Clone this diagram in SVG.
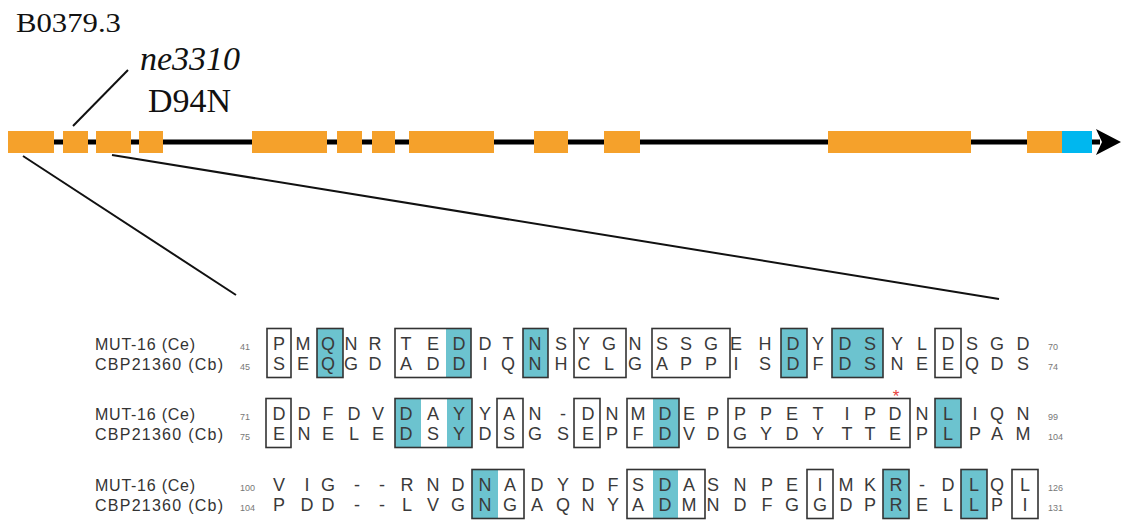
<svg xmlns="http://www.w3.org/2000/svg" width="1122" height="525" viewBox="0 0 1122 525">
<style>
.ex{fill:#f5a12b}
.utr{fill:#00b7ef}
.ser{font-family:"Liberation Serif","Times New Roman",serif;fill:#111}
.lbl{font-family:"Liberation Sans",Arial,sans-serif;font-size:16px;fill:#333}
.res{font-family:"Liberation Sans",Arial,sans-serif;font-size:18px;fill:#3a3a3a;text-anchor:middle}
.num{font-family:"Liberation Sans",Arial,sans-serif;font-size:9px;fill:#777}
.box{fill:none;stroke:#333;stroke-width:1.6}
.cy{fill:#6cc3cf}
.ln{stroke:#111;stroke-width:2;fill:none}
</style>
<rect width="1122" height="525" fill="#fff"/>
<g id="title">
<text class="ser" x="16" y="32" font-size="28" textLength="105" lengthAdjust="spacingAndGlyphs">B0379.3</text>
</g>
<g id="gene">
<line x1="8" y1="142" x2="1100" y2="142" stroke="#000" stroke-width="5"/>
<polygon points="1121,142 1096,129 1102,142 1096,155" fill="#000"/>
<rect class="ex" x="8" y="131" width="46" height="22"/>
<rect class="ex" x="63" y="131" width="25" height="22"/>
<rect class="ex" x="96" y="131" width="35" height="22"/>
<rect class="ex" x="139" y="131" width="24" height="22"/>
<rect class="ex" x="252" y="131" width="75" height="22"/>
<rect class="ex" x="337" y="131" width="25" height="22"/>
<rect class="ex" x="372" y="131" width="23" height="22"/>
<rect class="ex" x="409" y="131" width="85" height="22"/>
<rect class="ex" x="534" y="131" width="34" height="22"/>
<rect class="ex" x="604" y="131" width="36" height="22"/>
<rect class="ex" x="828" y="131" width="143" height="22"/>
<rect class="ex" x="1027" y="131" width="35" height="22"/>
<rect class="utr" x="1062" y="131" width="30" height="22"/>
</g>
<g id="mutation">
<text class="ser" x="140" y="70" font-size="34" font-style="italic">ne3310</text>
<text class="ser" x="148" y="112" font-size="34">D94N</text>
</g>
<g id="connectors">
<line class="ln" x1="73" y1="126" x2="128" y2="70"/>
<line class="ln" x1="23" y1="156" x2="236" y2="295"/>
<line class="ln" x1="112" y1="155" x2="999" y2="299"/>
</g>
<g id="row1">
<rect class="cy" x="317" y="328.5" width="26" height="49"/>
<rect class="cy" x="446" y="328.5" width="25" height="49"/>
<rect class="cy" x="523" y="328.5" width="25" height="49"/>
<rect class="cy" x="781" y="328.5" width="26" height="49"/>
<rect class="cy" x="832" y="328.5" width="51" height="49"/>
<rect class="box" x="267" y="328.5" width="24" height="49"/>
<rect class="box" x="317" y="328.5" width="26" height="49"/>
<rect class="box" x="395" y="328.5" width="76" height="49"/>
<rect class="box" x="523" y="328.5" width="25" height="49"/>
<rect class="box" x="574" y="328.5" width="52" height="49"/>
<rect class="box" x="652" y="328.5" width="78" height="49"/>
<rect class="box" x="781" y="328.5" width="26" height="49"/>
<rect class="box" x="832" y="328.5" width="51" height="49"/>
<rect class="box" x="935" y="328.5" width="26" height="49"/>
<text class="lbl" x="95" y="350" textLength="100">MUT-16 (Ce)</text>
<text class="lbl" x="95" y="370" textLength="128">CBP21360 (Cb)</text>
<text class="num" x="240" y="350">41</text>
<text class="num" x="240" y="370">45</text>
<text class="num" x="1048" y="350">70</text>
<text class="num" x="1048" y="370">74</text>
<text class="res" y="350" x="279 303 328 351 375 406 433 459 485 508 535 561 584 609 635 662 686 711 736 765 793 818 845 870 897 922 948 972 997 1023">PMQNRTEDDTNSYGNSSGEHDYDSYLDSGD</text>
<text class="res" y="370" x="279 303 328 351 375 406 433 459 485 508 535 561 584 609 635 662 686 711 736 765 793 818 845 870 897 922 948 972 997 1023">SEQGDADDIQNHCLGAPPISDFDSNEEQDS</text>
</g>
<g id="row2">
<rect class="cy" x="395" y="398.5" width="26" height="49"/>
<rect class="cy" x="447" y="398.5" width="25" height="49"/>
<rect class="cy" x="653" y="398.5" width="26" height="49"/>
<rect class="cy" x="935" y="398.5" width="26" height="49"/>
<rect class="box" x="266" y="398.5" width="25" height="49"/>
<rect class="box" x="395" y="398.5" width="77" height="49"/>
<rect class="box" x="497" y="398.5" width="26" height="49"/>
<rect class="box" x="574" y="398.5" width="26" height="49"/>
<rect class="box" x="627" y="398.5" width="52" height="49"/>
<rect class="box" x="728" y="398.5" width="182" height="49"/>
<rect class="box" x="935" y="398.5" width="26" height="49"/>
<text x="896" y="402" font-family="Liberation Sans,Arial,sans-serif" font-size="17" fill="#e8413a" text-anchor="middle">*</text>
<text class="lbl" x="95" y="420" textLength="100">MUT-16 (Ce)</text>
<text class="lbl" x="95" y="440" textLength="128">CBP21360 (Cb)</text>
<text class="num" x="240" y="420">71</text>
<text class="num" x="240" y="440">75</text>
<text class="num" x="1048" y="420">99</text>
<text class="num" x="1048" y="440">104</text>
<text class="res" y="420" x="279 304 328 354 378 406 433 459 485 509 535 563 588 612 638 665 689 713 740 766 792 818 847 870 895 922 948 975 997 1023">DDFDVDAYYAN-DNMDEPPPETIPDNLIQN</text>
<text class="res" y="440" x="279 304 328 354 378 406 433 459 485 509 535 563 588 612 638 665 689 713 740 766 792 818 847 870 895 922 948 975 997 1023">ENELEDSYDSGSEPFDVDGYDYTTEPLPAM</text>
</g>
<g id="row3">
<rect class="cy" x="472" y="469.5" width="26" height="49"/>
<rect class="cy" x="653" y="469.5" width="25" height="49"/>
<rect class="cy" x="883" y="469.5" width="26" height="49"/>
<rect class="cy" x="961" y="469.5" width="26" height="49"/>
<rect class="box" x="472" y="469.5" width="52" height="49"/>
<rect class="box" x="627" y="469.5" width="78" height="49"/>
<rect class="box" x="807" y="469.5" width="26" height="49"/>
<rect class="box" x="883" y="469.5" width="26" height="49"/>
<rect class="box" x="961" y="469.5" width="26" height="49"/>
<rect class="box" x="1012" y="469.5" width="26" height="49"/>
<text class="lbl" x="95" y="491" textLength="100">MUT-16 (Ce)</text>
<text class="lbl" x="95" y="511" textLength="128">CBP21360 (Cb)</text>
<text class="num" x="240" y="491">100</text>
<text class="num" x="240" y="511">104</text>
<text class="num" x="1048" y="491">126</text>
<text class="num" x="1048" y="511">131</text>
<text class="res" y="491" x="279 307 328 357 382 407 433 458 485 510 537 563 588 613 638 665 689 713 740 767 792 820 846 870 896 922 948 974 997 1025">VIG--RNDNADYDFSDASNPEIMKR-DLQL</text>
<text class="res" y="511" x="279 307 328 357 382 407 433 458 485 510 537 563 588 613 638 665 689 713 740 767 792 820 846 870 896 922 948 974 997 1025">PDD--LVGNGAQNYADMNDFGGDPRELLPI</text>
</g>
</svg>
